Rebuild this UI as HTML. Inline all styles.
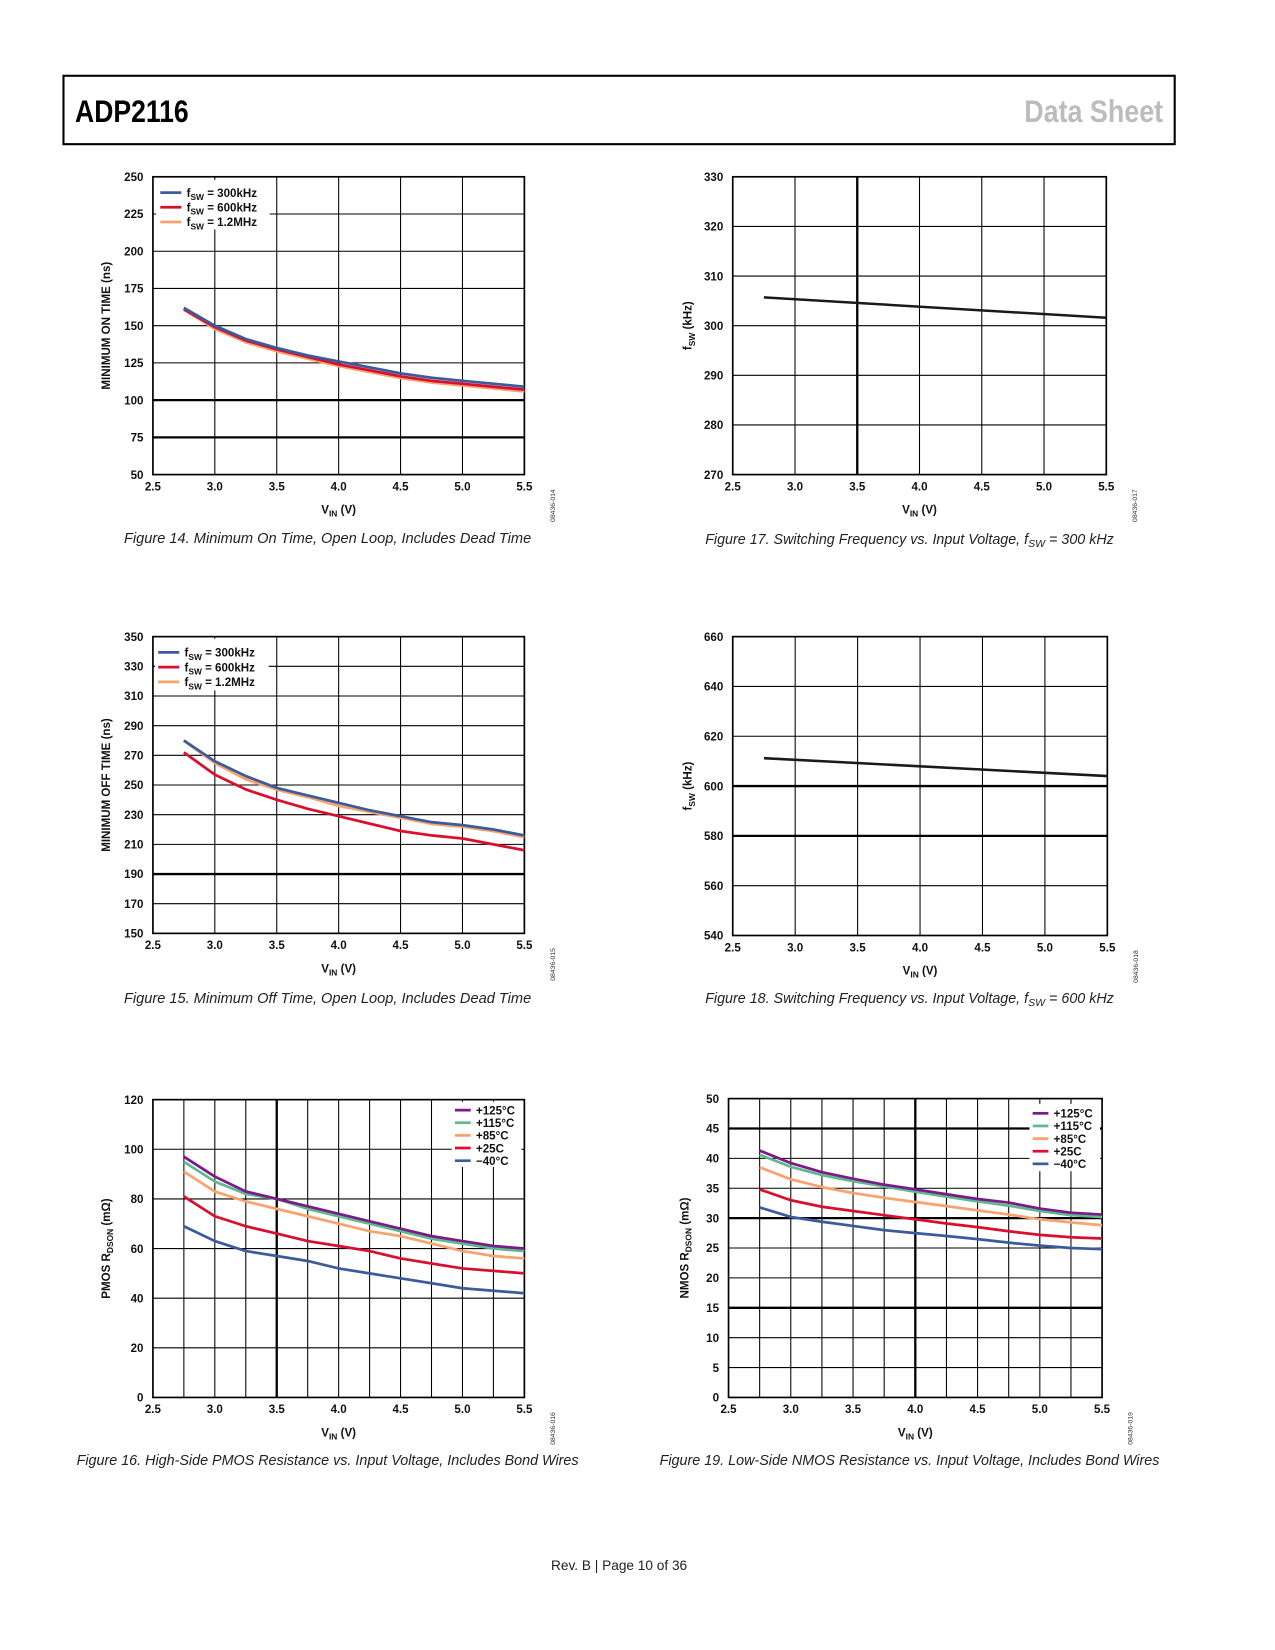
<!DOCTYPE html>
<html><head><meta charset="utf-8">
<style>
html,body{margin:0;padding:0;background:#fff;}
svg{display:block;}
text{font-family:"Liberation Sans",sans-serif;}
.tick{font-size:11px;font-weight:bold;fill:#111;}
.cap{font-size:13.6px;font-style:italic;fill:#222;}
.ax{font-size:11px;font-weight:bold;fill:#111;}
.leg{font-size:11px;font-weight:bold;fill:#111;}
</style></head>
<body>
<svg id="page" width="1275" height="1650" viewBox="0 0 1211 1568" xmlns="http://www.w3.org/2000/svg">
<rect x="60" y="72" width="1056" height="65" fill="none" stroke="#000" stroke-width="2"/>
<text x="71" y="116" textLength="108" lengthAdjust="spacingAndGlyphs" style="font-family:'Liberation Sans Narrow','Liberation Sans',sans-serif;font-weight:bold;font-size:30px" fill="#000">ADP2116</text>
<text x="973" y="116" textLength="132" lengthAdjust="spacingAndGlyphs" style="font-family:'Liberation Sans Narrow','Liberation Sans',sans-serif;font-weight:bold;font-size:30px" fill="#bcbcbc">Data Sheet</text>
<text x="588" y="1492" text-anchor="middle" style="font-size:13px" fill="#222">Rev. B | Page 10 of 36</text>
</svg>
<script>
// ---- data ----
const vin = [2.75,3.0,3.25,3.5,3.75,4.0,4.25,4.5,4.75,5.0,5.25,5.5];
const fswLabels = ['300kHz','600kHz','1.2MHz'];
const onTime300 = [162,150,141,135,130,126,122,118,115,113,111,109];
const onTime600 = [161,149,140,134,129,124,120,116,113,111,109,107];
const onTime1200 = [161,148,139,133,128,123,119,115,112,110,108,106];
const offTime300 = [280,266,256,248,243,238,233,229,225,223,220,216];
const offTime600 = [272,257,247,240,234,229,224,219,216,214,210,206];
const offTime1200 = [280,265,254,247,242,236,232,228,224,222,219,215];
const freqVin = [2.75,5.5];
const freq300 = [305.7,301.6];
const freq600 = [611.2,604.0];
const tempLabels = ['+125°C','+115°C','+85°C','+25C','\u221240°C'];
const pmos125 = [97,89,83,80,77,74,71,68,65,63,61,60];
const pmos115 = [95,87,82,80,76,73,70,67,64,62,60,59];
const pmos85 = [91,83,79,76,73,70,67,65,62,59,57,56];
const pmos25 = [81,73,69,66,63,61,59,56,54,52,51,50];
const pmosM40 = [69,63,59,57,55,52,50,48,46,44,43,42];
const nmos125 = [41.3,39.2,37.7,36.6,35.6,34.8,34.0,33.2,32.6,31.6,30.9,30.6];
const nmos115 = [40.6,38.6,37.2,36.2,35.3,34.4,33.6,32.8,32.1,31.2,30.5,30.2];
const nmos85 = [38.5,36.5,35.2,34.2,33.4,32.7,32.0,31.3,30.6,29.8,29.3,28.8];
const nmos25 = [34.8,33.0,31.9,31.2,30.5,29.8,29.1,28.5,27.8,27.2,26.8,26.6];
const nmosM40 = [31.8,30.2,29.4,28.7,28.0,27.5,27.0,26.5,25.9,25.4,25.0,24.8];
const xTicks = ['2.5','3.0','3.5','4.0','4.5','5.0','5.5'];

const NS='http://www.w3.org/2000/svg';
const page=document.getElementById('page');
const C={blue:'#3b5b9d',red:'#d80f2f',orange:'#f8a36e',purple:'#7a1b8b',green:'#5fb98b',black:'#1a1a1a'};
function mk(tag,attrs,parent){const e=document.createElementNS(NS,tag);for(const k in attrs)e.setAttribute(k,attrs[k]);(parent||page).appendChild(e);return e;}

function chart(o){
  const g=mk('g',{});
  
  
  const X=v=>o.x0+(v-2.5)/3*(o.x1-o.x0);
  const Y=v=>o.y1-(v-o.ymin)/(o.ymax-o.ymin)*(o.y1-o.y0);
  const step=o.minor?0.25:0.5;
  for(let v=2.5+step;v<5.5-1e-6;v+=step){
    const l=mk('line',{x1:X(v),x2:X(v),y1:o.y0,y2:o.y1,stroke:'#000','stroke-width':(o.thickX||[]).some(t=>Math.abs(t-v)<1e-6)?2.2:1},g);
    
    
  }
  for(let v=o.ymin+o.ystep;v<o.ymax-1e-6;v+=o.ystep){
    const l=mk('line',{x1:o.x0,x2:o.x1,y1:Y(v),y2:Y(v),stroke:'#000','stroke-width':(o.thickY||[]).some(t=>Math.abs(t-v)<1e-6)?2.2:1},g);
    
    
  }
  const fr=mk('rect',{x:o.x0,y:o.y0,width:o.x1-o.x0,height:o.y1-o.y0,fill:'none',stroke:'#000','stroke-width':1.6},g);
  
  
  for(let v=o.ymin;v<=o.ymax+1e-6;v+=o.ystep){
    const t=mk('text',{x:o.x0-9,y:Y(v)+4,'text-anchor':'end',class:'tick'},g);
    t.textContent=String(Math.round(v));
    
    
  }
  xTicks.forEach(s=>{
    const t=mk('text',{x:X(parseFloat(s)),y:o.y1+15,'text-anchor':'middle',class:'tick'},g);
    t.textContent=s;
    
    
  });
  const xt=mk('text',{x:(o.x0+o.x1)/2,y:o.y1+37,'text-anchor':'middle',class:'ax'},g);
  xt.innerHTML='V<tspan font-size="8" dy="3">IN</tspan><tspan dy="-3"> (V)</tspan>';
  
  
  const yt=mk('text',{transform:`translate(${o.ylx},${(o.y0+o.y1)/2}) rotate(-90)`,'text-anchor':'middle',class:'ax'},g);
  yt.innerHTML=o.ytitle;
  
  
  o.series.forEach(s=>{
    const xs=s.x||vin;
    const d=s.y.map((v,i)=>(i?'L':'M')+X(xs[i]).toFixed(1)+','+Y(v).toFixed(1)).join(' ');
    const p=mk('path',{d,fill:'none',stroke:s.c,'stroke-width':s.w||2.6,'stroke-linejoin':'round'},g);
    
    
  });
  if(o.legend){
    const L=o.legend;
    const bg=mk('rect',{x:L.bx,y:L.by,width:L.bw,height:L.bh,fill:'#fff'},g);
    
    
    L.items.forEach((it,i)=>{
      const yy=L.y+i*L.dy;
      const ln=mk('line',{x1:L.x,x2:L.x+L.lw,y1:yy,y2:yy,stroke:it.c,'stroke-width':2.6},g);
      
      
      const t=mk('text',{x:L.x+L.lw+5,y:yy+4,class:'leg'},g);
      t.innerHTML=it.t;
      
      
    });
  }
  const id=mk('text',{transform:`translate(${o.x1+29},${o.y1+45}) rotate(-90)`,style:'font-size:6.5px',fill:'#333'},g);
  id.textContent=o.id;
  
  
  const cap=mk('text',{x:o.capx,y:o.capy,'text-anchor':'middle',class:'cap',textLength:o.capw,lengthAdjust:'spacingAndGlyphs'},g);
  cap.innerHTML=o.cap;
  
  
}
const fsw=l=>`f<tspan font-size="8" dy="3">SW</tspan><tspan dy="-3"> = ${l}</tspan>`;

chart({name:'chart-min-on-time',x0:145,x1:498,y0:168,y1:451,ymin:50,ymax:250,ystep:25,thickY:[100,75],ylx:104,
  ytitle:'MINIMUM ON TIME (ns)',id:'08436-014',capx:311,capy:516,capw:387,cap:'Figure 14. Minimum On Time, Open Loop, Includes Dead Time',
  series:[{n:'1p2mhz',y:onTime1200,c:C.orange,w:3},{n:'600khz',y:onTime600,c:C.red},{n:'300khz',y:onTime300,c:C.blue}],
  legend:{bx:148,by:171,bw:108,bh:47,x:152,lw:20,y:183,dy:14,items:[{c:C.blue,t:fsw(fswLabels[0])},{c:C.red,t:fsw(fswLabels[1])},{c:C.orange,t:fsw(fswLabels[2])}]}});

chart({name:'chart-fsw-300khz',x0:696,x1:1051,y0:168,y1:451,ymin:270,ymax:330,ystep:10,thickX:[3.5],ylx:657,
  ytitle:'f<tspan font-size="8" dy="3">SW</tspan><tspan dy="-3"> (kHz)</tspan>',id:'08436-017',capx:864,capy:517,cap:'Figure 17. Switching Frequency vs. Input Voltage, f<tspan font-size="10" dy="3">SW</tspan><tspan dy="-3"> = 300 kHz</tspan>',
  series:[{n:'fsw',x:freqVin,y:freq300,c:C.black,w:2.4}]});

chart({name:'chart-min-off-time',x0:145,x1:498,y0:605,y1:887,ymin:150,ymax:350,ystep:20,thickY:[190],ylx:104,
  ytitle:'MINIMUM OFF TIME (ns)',id:'08436-015',capx:311,capy:953,capw:387,cap:'Figure 15. Minimum Off Time, Open Loop, Includes Dead Time',
  series:[{n:'1p2mhz',y:offTime1200,c:C.orange,w:3},{n:'300khz',y:offTime300,c:C.blue},{n:'600khz',y:offTime600,c:C.red}],
  legend:{bx:147,by:607,bw:108,bh:49,x:150,lw:20,y:620,dy:14,items:[{c:C.blue,t:fsw(fswLabels[0])},{c:C.red,t:fsw(fswLabels[1])},{c:C.orange,t:fsw(fswLabels[2])}]}});

chart({name:'chart-fsw-600khz',x0:696,x1:1052,y0:605,y1:889,ymin:540,ymax:660,ystep:20,thickY:[600,580],ylx:657,
  ytitle:'f<tspan font-size="8" dy="3">SW</tspan><tspan dy="-3"> (kHz)</tspan>',id:'08436-018',capx:864,capy:953,cap:'Figure 18. Switching Frequency vs. Input Voltage, f<tspan font-size="10" dy="3">SW</tspan><tspan dy="-3"> = 600 kHz</tspan>',
  series:[{n:'fsw',x:freqVin,y:freq600,c:C.black,w:2.4}]});

chart({name:'chart-pmos-rdson',x0:145,x1:498,y0:1045,y1:1328,ymin:0,ymax:120,ystep:20,minor:true,thickX:[3.5],ylx:104,
  ytitle:'PMOS R<tspan font-size="8" dy="3">DSON</tspan><tspan dy="-3"> (mΩ)</tspan>',id:'08436-016',capx:311,capy:1392,capw:477,cap:'Figure 16. High-Side PMOS Resistance vs. Input Voltage, Includes Bond Wires',
  series:[{n:'minus40c',y:pmosM40,c:C.blue},{n:'25c',y:pmos25,c:C.red},{n:'85c',y:pmos85,c:C.orange},{n:'115c',y:pmos115,c:C.green},{n:'125c',y:pmos125,c:C.purple}],
  legend:{bx:429,by:1047,bw:66,bh:62,x:432,lw:15,y:1055,dy:12,items:[{c:C.purple,t:tempLabels[0]},{c:C.green,t:tempLabels[1]},{c:C.orange,t:tempLabels[2]},{c:C.red,t:tempLabels[3]},{c:C.blue,t:tempLabels[4]}]}});

chart({name:'chart-nmos-rdson',x0:692,x1:1047,y0:1044,y1:1328,ymin:0,ymax:50,ystep:5,minor:true,thickX:[4.0],thickY:[45,30,15],ylx:654,
  ytitle:'NMOS R<tspan font-size="8" dy="3">DSON</tspan><tspan dy="-3"> (mΩ)</tspan>',id:'08436-019',capx:864,capy:1392,capw:475,cap:'Figure 19. Low-Side NMOS Resistance vs. Input Voltage, Includes Bond Wires',
  series:[{n:'minus40c',y:nmosM40,c:C.blue},{n:'25c',y:nmos25,c:C.red},{n:'85c',y:nmos85,c:C.orange},{n:'115c',y:nmos115,c:C.green},{n:'125c',y:nmos125,c:C.purple}],
  legend:{bx:978,by:1049,bw:67,bh:64,x:981,lw:15,y:1058,dy:12,items:[{c:C.purple,t:tempLabels[0]},{c:C.green,t:tempLabels[1]},{c:C.orange,t:tempLabels[2]},{c:C.red,t:tempLabels[3]},{c:C.blue,t:tempLabels[4]}]}});
</script>
</body></html>
